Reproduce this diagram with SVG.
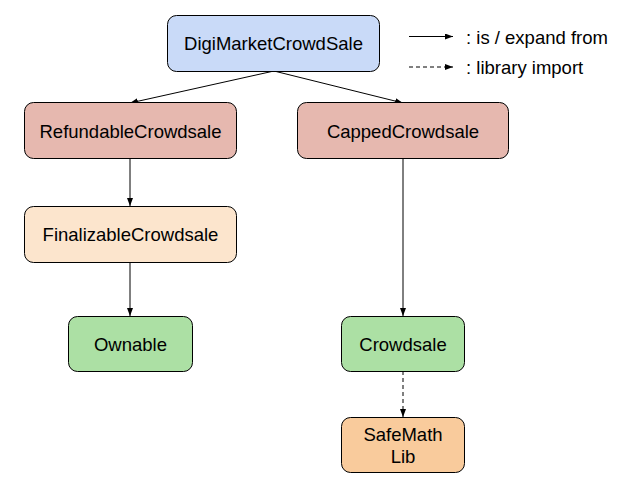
<svg xmlns="http://www.w3.org/2000/svg" width="638" height="480" viewBox="0 0 638 480">
<defs>
<marker id="ah" viewBox="0 0 8 6" refX="8" refY="3" markerWidth="8" markerHeight="6" markerUnits="userSpaceOnUse" orient="auto">
<path d="M0,0 L8,3 L0,6 Z" fill="#000"/>
</marker>
</defs>
<style>
.n rect{stroke:#000;stroke-width:1}
text{font-family:"Liberation Sans",Arial,sans-serif;font-size:18.5px;fill:#000}
.n text{text-anchor:middle}
.c line{stroke:#000;stroke-width:1;fill:none;marker-end:url(#ah)}
.d{stroke-dasharray:4,3}
</style>
<rect width="638" height="480" fill="#fff"/>
<g class="c" id="connectors">
<line x1="274" y1="71" x2="130" y2="103"/>
<line x1="274" y1="71" x2="403" y2="103"/>
<line x1="130" y1="158" x2="130" y2="206"/>
<line x1="130" y1="262" x2="130" y2="316"/>
<line x1="403" y1="158" x2="403" y2="316"/>
<line class="d" x1="403" y1="371" x2="403" y2="417"/>
<line x1="409" y1="36.5" x2="453" y2="36.5"/>
<line class="d" x1="409" y1="67" x2="453" y2="67"/>
</g>
<g class="n" id="digi"><rect x="167.5" y="15.5" width="212" height="56" rx="9" fill="#c9daf8"/><text x="273.5" y="50">DigiMarketCrowdSale</text></g>
<g class="n" id="refundable"><rect x="24.5" y="102.5" width="212" height="56" rx="9" fill="#e6b8af"/><text x="130.5" y="137.5">RefundableCrowdsale</text></g>
<g class="n" id="capped"><rect x="297.5" y="102.5" width="211" height="56" rx="9" fill="#e6b8af"/><text x="403" y="137.5">CappedCrowdsale</text></g>
<g class="n" id="finalizable"><rect x="24.5" y="206.5" width="212" height="56" rx="9" fill="#fce5cd"/><text x="130.5" y="241">FinalizableCrowdsale</text></g>
<g class="n" id="ownable"><rect x="68.5" y="316.5" width="124" height="55" rx="9" fill="#ace0a4"/><text x="130.5" y="350.5">Ownable</text></g>
<g class="n" id="crowdsale"><rect x="341.5" y="316.5" width="123" height="55" rx="9" fill="#ace0a4"/><text x="403" y="350.5">Crowdsale</text></g>
<g class="n" id="safemath"><rect x="341.5" y="417.5" width="123" height="55" rx="9" fill="#f9cb9c"/><text x="403" y="441">SafeMath</text><text x="403" y="463">Lib</text></g>
<g id="legend">
<text x="466" y="44">: is / expand from</text>
<text x="466" y="74">: library import</text>
</g>
</svg>
